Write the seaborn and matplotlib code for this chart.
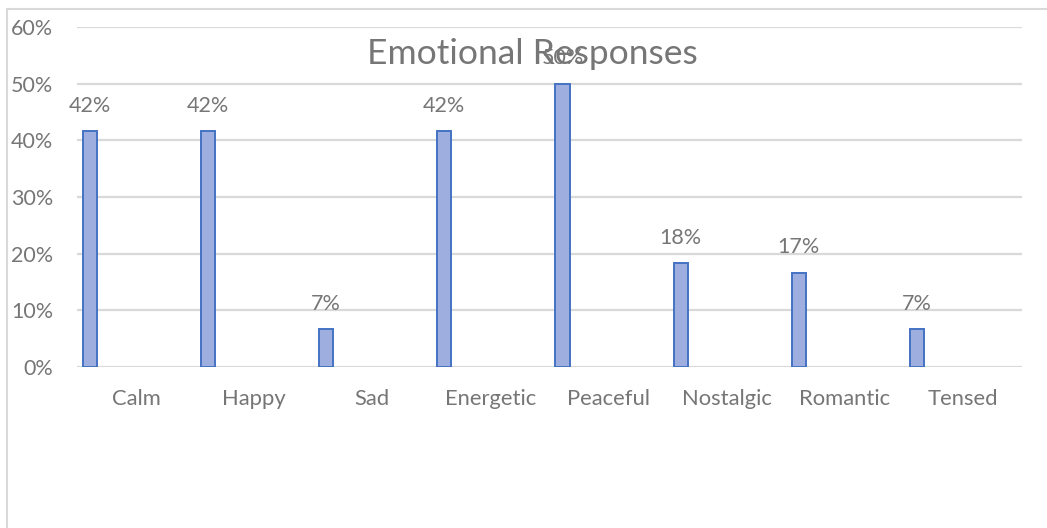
import numpy as np
import matplotlib
matplotlib.use("Agg")
import matplotlib.pyplot as plt
from matplotlib.lines import Line2D
import seaborn as sns
import pandas as pd

# Share of listeners reporting each emotion
emotions = ["Calm", "Happy", "Sad", "Energetic", "Peaceful", "Nostalgic", "Romantic", "Tensed"]
shares = [0.4167, 0.4167, 0.0667, 0.4167, 0.50, 0.1833, 0.1667, 0.0667]
y_ticks = [0.0, 0.1, 0.2, 0.3, 0.4, 0.5, 0.6]
title = "Emotional Responses"

df = pd.DataFrame({"emotion": emotions, "share": shares})

sns.set_theme(style="white")
plt.rcParams["font.family"] = ["Lato", "DejaVu Sans"]

GRAY_TEXT = "#767676"
GRID = "#d9d9d9"

fig = plt.figure(figsize=(10.47, 5.28), dpi=100)
ax = fig.add_axes([77 / 1047, 1 - 367 / 528, (1022 - 77) / 1047, 340 / 528])

sns.barplot(data=df, x="emotion", y="share", ax=ax, width=0.12,
            color="#9eafdf", edgecolor="#4472c4", linewidth=1.4,
            saturation=1, errorbar=None, zorder=3)

# category slots: bars sit near the left edge of each slot, labels in the middle
ax.set_xlim(-0.11, len(emotions) - 0.11)
ax.set_xticks(np.arange(len(emotions)) + 0.39)
ax.set_xticklabels(emotions)
ax.set_ylim(0, 0.6)
ax.set_yticks(y_ticks)
ax.yaxis.set_major_formatter(matplotlib.ticker.PercentFormatter(1.0, decimals=0))

ax.set_xlabel("")
ax.set_ylabel("")
for s in ax.spines.values():
    s.set_visible(False)
ax.grid(axis="y", color=GRID, linewidth=1.6, zorder=0)
ax.grid(axis="x", visible=False)
ax.tick_params(axis="x", length=0, pad=16, labelsize=15.8, labelcolor=GRAY_TEXT)
ax.tick_params(axis="y", length=0, pad=17, labelsize=15.5, labelcolor=GRAY_TEXT)

for c in ax.containers:
    ax.bar_label(c, fmt="{:.0%}", padding=11, fontsize=15.5, color=GRAY_TEXT)

fig.text(532 / 1047, 1 - 54 / 528, title, ha="center", va="center",
         fontsize=25.5, color=GRAY_TEXT)

# chart-area frame (left and top edges)
fig.add_artist(Line2D([7 / 1047, 7 / 1047], [0, 1 - 9 / 528], color=GRID, lw=1.5))
fig.add_artist(Line2D([7 / 1047, 1], [1 - 9 / 528, 1 - 9 / 528], color=GRID, lw=1.5))

fig.savefig("out.png", dpi=100, facecolor="white")
